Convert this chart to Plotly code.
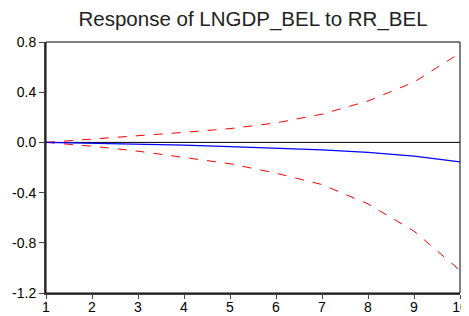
import plotly.graph_objects as go

periods = [1, 2, 3, 4, 5, 6, 7, 8, 9, 10]
response = [0.0, -0.006, -0.013, -0.022, -0.033, -0.045, -0.06, -0.08, -0.11, -0.155]
upper = [0.0, 0.025, 0.05, 0.08, 0.11, 0.155, 0.225, 0.33, 0.48, 0.712]
lower = [0.0, -0.03, -0.07, -0.12, -0.17, -0.245, -0.336, -0.49, -0.707, -1.02]
y_ticks = [0.8, 0.4, 0.0, -0.4, -0.8, -1.2]
y_labels = ["0.8", "0.4", "0.0", "-0.4", "-0.8", "-1.2"]

fig = go.Figure()
fig.add_trace(go.Scatter(x=periods, y=upper, mode="lines",
                         line=dict(color="#ff0000", width=1, dash="dash")))
fig.add_trace(go.Scatter(x=periods, y=lower, mode="lines",
                         line=dict(color="#ff0000", width=1, dash="dash")))
fig.add_trace(go.Scatter(x=periods, y=response, mode="lines",
                         line=dict(color="#0000ff", width=1.2)))

fig.add_shape(type="line", xref="x", yref="y", x0=1, x1=10, y0=0, y1=0,
              line=dict(color="black", width=1), layer="below")
fig.add_shape(type="rect", xref="paper", yref="paper", x0=0, x1=1, y0=0, y1=1,
              line=dict(color="black", width=1))

# page body has an 8px default margin; figure is sized to fit the window
fig.update_layout(
    width=461, height=308,
    margin=dict(l=38, r=9, t=34, b=23),
    paper_bgcolor="white", plot_bgcolor="white",
    showlegend=False,
    font=dict(family="Liberation Sans, Arial, sans-serif", size=14, color="black"),
    title=dict(text="Response of LNGDP_BEL to RR_BEL", xref="paper", x=0.5,
               xanchor="center", yref="container", y=0.966, yanchor="middle",
               font=dict(size=20.5, color="#222")),
)
fig.update_xaxes(range=[1, 10], tickvals=periods, showgrid=False, zeroline=False,
                 showline=True, linecolor="#444", linewidth=2, ticks="outside",
                 ticklen=4, tickcolor="#444", tickfont=dict(size=14),
                 ticklabelstandoff=-4, ticklabeloverflow="allow", automargin=False)
fig.update_yaxes(range=[-1.2, 0.8], tickvals=y_ticks, ticktext=y_labels,
                 showgrid=False, zeroline=False, showline=True, linecolor="#444",
                 linewidth=2, ticks="outside", ticklen=5, tickcolor="#444",
                 tickfont=dict(size=14), automargin=False)

fig.write_html("out.html")
